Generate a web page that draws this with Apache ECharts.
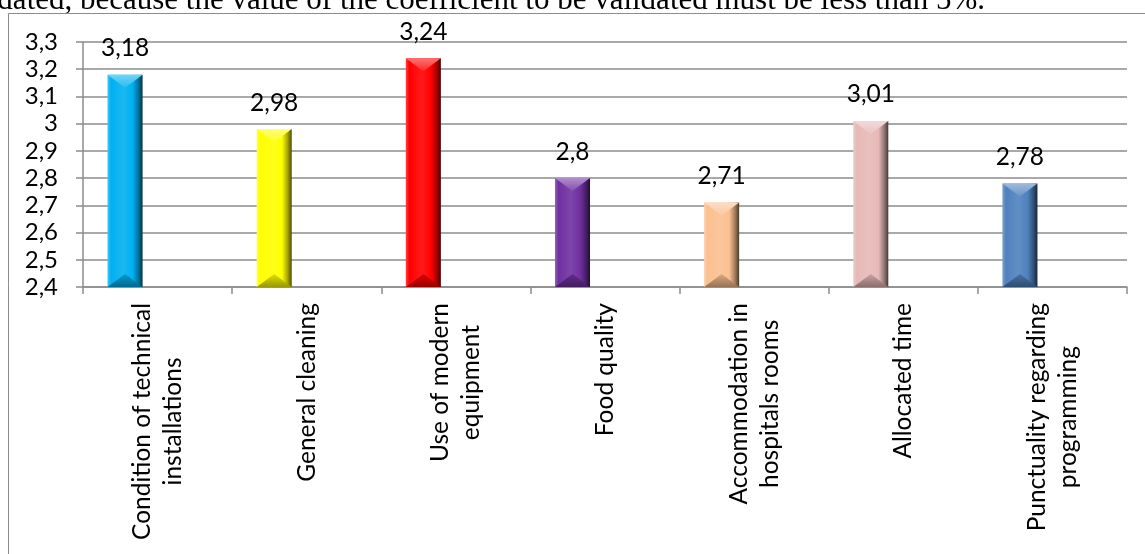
<!DOCTYPE html>
<html>
<head>
<meta charset="utf-8">
<script src="https://cdn.jsdelivr.net/npm/echarts@6/dist/echarts.min.js"></script>
<style>
  html, body { margin: 0; padding: 0; background: #ffffff; }
  #chart { width: 1145px; height: 554px; }
</style>
</head>
<body>
<div id="chart"></div>
<script>
// Survey scores per service aspect
const categories = [
  'Condition of technical\ninstallations',
  'General cleaning',
  'Use of modern\nequipment',
  'Food quality',
  'Accommodation in\nhospitals rooms',
  'Allocated time',
  'Punctuality regarding\nprogramming'
];
const scores = [3.18, 2.98, 3.24, 2.8, 2.71, 3.01, 2.78];
const yTicks = { min: 2.4, max: 3.3, step: 0.1 };

// One fill colour per bar
const barColors = ['#00B0F0', '#FFFF00', '#FF0000', '#7030A0', '#FAC090', '#E6B9B8', '#4F81BD'];

const LABEL_FONT = 'Lato';
const LABEL_SIZE = 24.5;

function parseHex(c) {
  const n = parseInt(c.slice(1), 16);
  return [(n >> 16) & 255, (n >> 8) & 255, n & 255];
}
function mix(c, target, t) {
  const a = parseHex(c), b = parseHex(target);
  const r = a.map((v, i) => Math.round(v + (b[i] - v) * t));
  return 'rgb(' + r.join(',') + ')';
}
const lighten = (c, t) => mix(c, '#ffffff', t);
const darken = (c, t) => mix(c, '#000000', t);
const decimalComma = v => (Math.round(v * 100) / 100).toString().replace('.', ',');

const chart = echarts.init(document.getElementById('chart'), null, { renderer: 'canvas' });

// Bevelled column, set slightly left of the category centre
function renderBevelBar(params, api) {
  const idx = api.value(0);
  const val = api.value(1);
  const top = api.coord([idx, val]);
  const base = api.coord([idx, yTicks.min]);
  const band = api.size([1, 0])[0];
  const w = band * 0.235;
  const cx = top[0] - band * 0.218;
  const x0 = cx - w / 2, x1 = cx + w / 2;
  const y0 = top[1], y1 = base[1];
  const bev = 13;
  const c = barColors[idx % barColors.length];

  const bodyFill = new echarts.graphic.LinearGradient(0, 0, 1, 0, [
    { offset: 0, color: lighten(c, 0.25) },
    { offset: 0.1, color: c },
    { offset: 0.45, color: lighten(c, 0.1) },
    { offset: 0.72, color: c },
    { offset: 0.88, color: darken(c, 0.35) },
    { offset: 1, color: darken(c, 0.7) }
  ]);
  const topFill = new echarts.graphic.LinearGradient(0, 0, 0, 1, [
    { offset: 0, color: lighten(c, 0.45) },
    { offset: 1, color: lighten(c, 0.15) }
  ]);
  const bottomFill = new echarts.graphic.LinearGradient(0, 0, 0, 1, [
    { offset: 0, color: darken(c, 0.12) },
    { offset: 1, color: darken(c, 0.4) }
  ]);

  return {
    type: 'group',
    children: [
      { type: 'rect', shape: { x: x0, y: y0, width: w, height: y1 - y0 }, style: { fill: bodyFill } },
      { type: 'polygon', shape: { points: [[x0, y0], [x1, y0], [cx, y0 + bev]] }, style: { fill: topFill } },
      { type: 'polygon', shape: { points: [[x0, y1], [x1, y1], [cx, y1 - bev]] }, style: { fill: bottomFill } },
      {
        type: 'text',
        style: {
          text: decimalComma(val), x: cx, y: y0 - 14,
          align: 'center', verticalAlign: 'bottom',
          font: LABEL_SIZE + 'px ' + LABEL_FONT, fill: '#000000'
        }
      }
    ]
  };
}

const option = {
  animation: false,
  backgroundColor: '#ffffff',
  grid: { left: 83, right: 18, top: 42, bottom: 267, containLabel: false },
  graphic: [
    {
      type: 'text', right: 160, top: -15,
      style: {
        text: 'validated, because the value of the coefficient to be validated must be less than 5%.',
        font: '31px "Liberation Serif"', fill: '#000000'
      }
    },
    {
      type: 'polyline', silent: true,
      shape: { points: [[8.5, 560], [8.5, 13.5], [1150, 13.5]] },
      style: { stroke: '#8c8c8c', lineWidth: 1, fill: null }
    }
  ],
  xAxis: {
    type: 'category',
    data: categories,
    boundaryGap: true,
    axisLine: { show: true, lineStyle: { color: '#8c8c8c', width: 1.5 } },
    axisTick: { show: true, length: 7, alignWithLabel: false, lineStyle: { color: '#8c8c8c', width: 1.5 } },
    axisLabel: {
      interval: 0, rotate: 90, margin: 16,
      formatter: v => v.split('\n').map(s => '{c|' + s + '}').join('\n'),
      rich: { c: { align: 'center', fontSize: LABEL_SIZE, fontFamily: LABEL_FONT, color: '#000000', lineHeight: 31 } }
    },
    splitLine: { show: false }
  },
  yAxis: {
    type: 'value',
    min: yTicks.min, max: yTicks.max, interval: yTicks.step,
    axisLine: { show: true, lineStyle: { color: '#8c8c8c', width: 1.5 } },
    axisTick: { show: true, length: 7, lineStyle: { color: '#8c8c8c', width: 1.5 } },
    axisLabel: {
      margin: 25, color: '#000000', fontSize: 24, fontFamily: LABEL_FONT,
      formatter: v => decimalComma(Math.round(v * 10) / 10)
    },
    splitLine: { show: true, lineStyle: { color: '#8c8c8c', width: 1.5 } }
  },
  series: [
    {
      type: 'custom',
      name: 'Score',
      renderItem: renderBevelBar,
      encode: { x: 0, y: 1 },
      data: scores.map((v, i) => [i, v]),
      z: 3
    }
  ]
};

chart.setOption(option);
</script>
</body>
</html>
